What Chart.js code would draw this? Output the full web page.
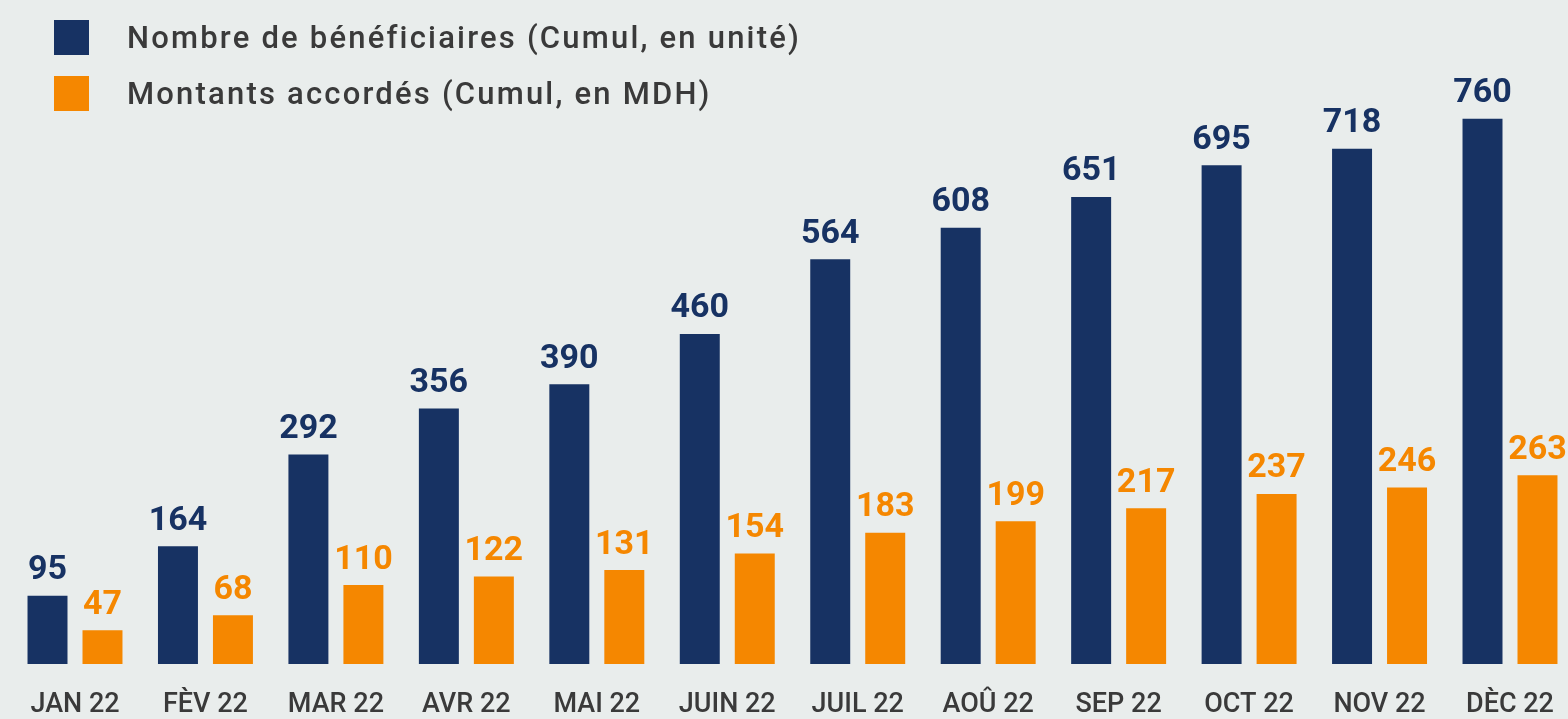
<!DOCTYPE html>
<html>
<head>
<meta charset="utf-8">
<script src="https://cdn.jsdelivr.net/npm/chart.js@4"></script>
<style>
  html, body { margin: 0; padding: 0; background: #e9edec; overflow: hidden; }
  #wrap { position: relative; width: 1568px; height: 719px; }
  #legend { position: absolute; left: 54px; top: 19px; font-family: Roboto, sans-serif; font-size: 31px; font-weight: 500; letter-spacing: 2.2px; color: #3a3a3a; }
  .item { display: flex; align-items: center; height: 36px; margin-bottom: 20px; }
  .box { width: 35px; height: 35px; margin-right: 38px; }
</style>
</head>
<body>
<div id="wrap">
  <canvas id="chart" width="1568" height="719"></canvas>
  <div id="legend"></div>
</div>
<script>
const months = ['JAN 22', 'FÈV 22', 'MAR 22', 'AVR 22', 'MAI 22', 'JUIN 22', 'JUIL 22', 'AOÛ 22', 'SEP 22', 'OCT 22', 'NOV 22', 'DÈC 22'];
const beneficiaires = [95, 164, 292, 356, 390, 460, 564, 608, 651, 695, 718, 760];
const montants = [47, 68, 110, 122, 131, 154, 183, 199, 217, 237, 246, 263];
const seriesNames = ['Nombre de bénéficiaires (Cumul, en unité)', 'Montants accordés (Cumul, en MDH)'];
const navy = '#173263';
const orange = '#f58700';

// labels above each bar
const valueLabels = {
  id: 'valueLabels',
  afterDatasetsDraw(chart) {
    const ctx = chart.ctx;
    ctx.save();
    ctx.font = 'bold 34px Roboto';
    ctx.textAlign = 'center';
    ctx.textBaseline = 'bottom';
    chart.data.datasets.forEach((ds, i) => {
      ctx.fillStyle = ds.backgroundColor;
      chart.getDatasetMeta(i).data.forEach((bar, j) => {
        ctx.fillText(ds.data[j], bar.x, bar.y - 8);
      });
    });
    ctx.restore();
  }
};

const ctx = document.getElementById('chart').getContext('2d');
new Chart(ctx, {
  type: 'bar',
  data: {
    labels: months,
    datasets: [
      { label: seriesNames[0], data: beneficiaires, backgroundColor: navy, clip: false },
      { label: seriesNames[1], data: montants, backgroundColor: orange, clip: false }
    ]
  },
  options: {
    responsive: false,
    animation: false,
    layout: { padding: { left: 75, right: 58, top: 90, bottom: 0 } },
    datasets: { bar: { categoryPercentage: 0.843, barPercentage: 0.727 } },
    plugins: { legend: { display: false }, tooltip: { enabled: false } },
    scales: {
      x: {
        offset: false,
        // tick marks hidden, tickLength only pushes the labels down
        grid: { display: false, drawTicks: true, tickLength: 15 },
        border: { display: false },
        ticks: { color: '#3a3a3a', font: { family: 'Roboto', size: 27, weight: '500' }, padding: 10, maxRotation: 0, autoSkip: false },
        afterFit(scale) { scale.height = 55; }
      },
      y: { display: false, min: 0, max: 800 }
    }
  },
  plugins: [valueLabels]
});

const legend = document.getElementById('legend');
[navy, orange].forEach((c, i) => {
  const row = document.createElement('div');
  row.className = 'item';
  row.innerHTML = '<span class="box" style="background:' + c + '"></span><span>' + seriesNames[i] + '</span>';
  legend.appendChild(row);
});
</script>
</body>
</html>
